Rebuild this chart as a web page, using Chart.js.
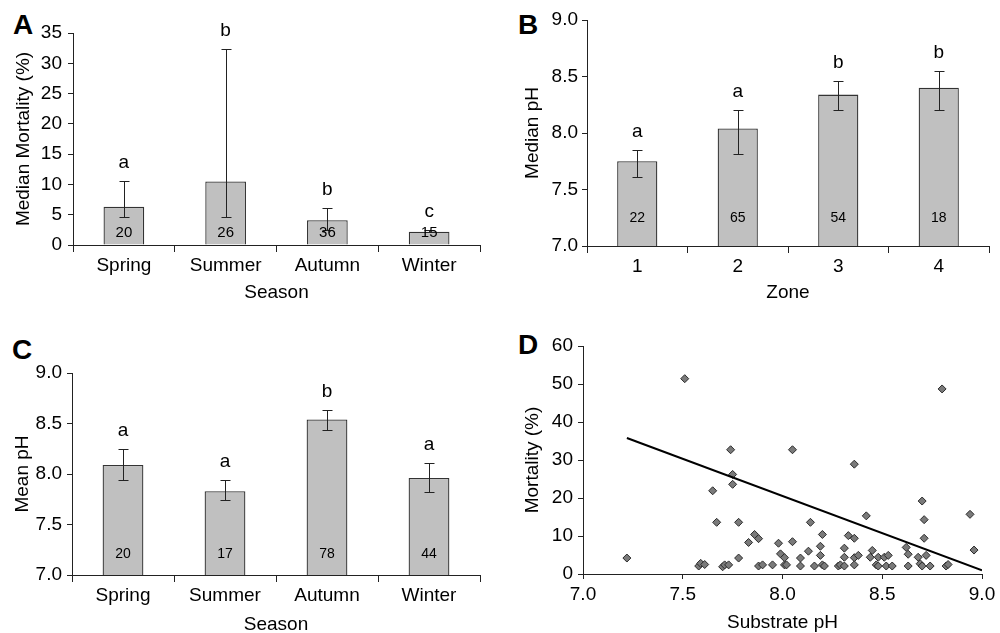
<!DOCTYPE html>
<html>
<head>
<meta charset="utf-8">
<script src="https://cdn.jsdelivr.net/npm/chart.js@4"></script>
<style>
  html, body { margin: 0; padding: 0; background: #fff; overflow: hidden; width: 1000px; height: 633px; }
  body { position: relative; }
  canvas { position: absolute; }
  .tag { position: absolute; font: bold 28px "Liberation Sans", Arial, sans-serif; line-height: 28px; color: #000; }
</style>
</head>
<body>
<div class="tag" style="left:13px;top:11px">A</div>
<div class="tag" style="left:518px;top:11px">B</div>
<div class="tag" style="left:12px;top:336px">C</div>
<div class="tag" style="left:518px;top:331px">D</div>
<canvas id="chart-a" width="500" height="316" style="left:0;top:0;width:500px;height:316px"></canvas>
<canvas id="chart-b" width="500" height="316" style="left:500px;top:0;width:500px;height:316px"></canvas>
<canvas id="chart-c" width="500" height="340" style="left:0;top:316px;width:500px;height:340px"></canvas>
<canvas id="chart-d" width="500" height="340" style="left:500px;top:316px;width:500px;height:340px"></canvas>
<script>
// A: median mortality by season
const seasons = ['Spring', 'Summer', 'Autumn', 'Winter'];
const mortalityMedian = [6.3, 10.5, 4.1, 2.2];
const mortalityHigh = [10.5, 32.4, 6.1, 2.4];
const mortalityLow = [4.6, 4.6, 2.4, 2.1];
const mortalityLetters = ['a', 'b', 'b', 'c'];
const mortalityN = [20, 26, 36, 15];

// B: median pH by zone
const zones = ['1', '2', '3', '4'];
const zonePh = [7.75, 8.04, 8.34, 8.40];
const zonePhHigh = [7.85, 8.20, 8.46, 8.55];
const zonePhLow = [7.61, 7.81, 8.20, 8.20];
const zoneLetters = ['a', 'a', 'b', 'b'];
const zoneN = [22, 65, 54, 18];

// C: mean pH by season
const seasonPh = [8.09, 7.83, 8.54, 7.96];
const seasonPhHigh = [8.25, 7.94, 8.63, 8.11];
const seasonPhLow = [7.94, 7.74, 8.44, 7.82];
const seasonLetters = ['a', 'a', 'b', 'a'];
const seasonN = [20, 17, 78, 44];

// D: mortality vs substrate pH
const substratePh = [7.22, 7.51, 7.58, 7.59, 7.61, 7.65, 7.67, 7.70, 7.71, 7.73, 7.74, 7.75, 7.75,
  7.78, 7.78, 7.83, 7.86, 7.88, 7.88, 7.90, 7.95, 7.98, 7.99, 8.01, 8.01, 8.02, 8.05, 8.05,
  8.09, 8.09, 8.13, 8.14, 8.16, 8.19, 8.19, 8.20, 8.20, 8.21, 8.28, 8.29, 8.31, 8.31, 8.31,
  8.33, 8.36, 8.36, 8.36, 8.36, 8.38, 8.42, 8.44, 8.45, 8.47, 8.48, 8.48, 8.51, 8.52, 8.53,
  8.55, 8.62, 8.63, 8.63, 8.68, 8.69, 8.70, 8.70, 8.71, 8.71, 8.72, 8.74, 8.80, 8.82, 8.83,
  8.94, 8.96];
const mortality = [4.2, 51.4, 2.1, 2.8, 2.5, 21.9, 13.6, 1.9, 2.4, 2.4, 32.7, 26.2, 23.6,
  4.2, 13.6, 8.3, 10.4, 9.3, 2.1, 2.4, 2.4, 8.1, 5.3, 4.3, 2.4, 2.4, 32.7, 8.5,
  4.2, 2.1, 6.0, 13.6, 2.1, 7.3, 4.9, 10.4, 2.4, 2.1, 2.1, 2.4, 6.8, 4.4, 2.1,
  10.1, 9.4, 28.9, 4.3, 2.4, 4.9, 15.3, 4.4, 6.2, 2.4, 4.4, 2.1, 4.4, 2.1, 4.9,
  2.1, 7.0, 5.2, 2.1, 4.4, 2.7, 2.1, 19.2, 14.3, 9.4, 4.9, 2.1, 48.7, 2.1, 2.5,
  15.7, 6.3];
const fitPh = [7.22, 9.0];
const fitMortality = [35.8, 1.0];

const FONT = '"Liberation Sans", Arial, sans-serif';
Chart.defaults.font.family = FONT;
Chart.defaults.font.size = 19;
Chart.defaults.color = '#000';

function annotPlugin(o) {
  return {
    id: 'annot',
    afterDatasetsDraw(chart) {
      const ctx = chart.ctx;
      const y = chart.scales.y;
      const meta = chart.getDatasetMeta(0);
      const base = chart.chartArea.bottom;
      ctx.save();
      ctx.strokeStyle = '#222';
      ctx.lineWidth = 1;
      ctx.fillStyle = '#000';
      ctx.textAlign = 'center';
      meta.data.forEach((bar, i) => {
        const x = Math.round(bar.x) + 0.5;
        const yh = Math.round(y.getPixelForValue(o.high[i])) + 0.5;
        const yl = Math.round(y.getPixelForValue(o.low[i])) + 0.5;
        ctx.beginPath();
        ctx.moveTo(x, yh); ctx.lineTo(x, yl);
        ctx.moveTo(x - 5, yh); ctx.lineTo(x + 5, yh);
        ctx.moveTo(x - 5, yl); ctx.lineTo(x + 5, yl);
        ctx.stroke();
        ctx.font = '19px ' + FONT;
        ctx.textBaseline = 'alphabetic';
        ctx.fillText(o.letters[i], bar.x, yh - 14);
        ctx.font = o.nSize + 'px ' + FONT;
        ctx.textBaseline = 'middle';
        ctx.fillText(String(o.n[i]), bar.x, base - o.nOffset);
      });
      ctx.restore();
    }
  };
}

function barChart(id, o) {
  return new Chart(document.getElementById(id), {
    type: 'bar',
    data: {
      labels: o.labels,
      datasets: [{
        data: o.values,
        backgroundColor: '#c0c0c0',
        borderColor: '#333',
        borderWidth: 1.3,
        categoryPercentage: 1,
        barPercentage: 0.4
      }]
    },
    options: {
      responsive: false,
      animation: false,
      devicePixelRatio: 1,
      layout: { padding: o.pad },
      plugins: { legend: { display: false }, tooltip: { enabled: false } },
      scales: {
        x: {
          grid: { display: true, drawOnChartArea: false, tickLength: 7, color: '#222' },
          border: { color: '#222' },
          ticks: { padding: 2, color: '#000' },
          title: { display: true, text: o.xTitle, color: '#000', padding: { top: 0, bottom: o.xTitlePad } },
          afterFit: s => { s.height = o.xH; }
        },
        y: {
          min: o.min,
          max: o.max,
          grid: { drawOnChartArea: false, tickLength: 5, color: '#222' },
          border: { color: '#222' },
          ticks: { stepSize: o.step, padding: o.yPad, color: '#000', callback: o.fmt },
          title: { display: true, text: o.yTitle, color: '#000', padding: { top: o.yTitlePad, bottom: 0 } },
          afterFit: s => { s.width = o.yW; }
        }
      }
    },
    plugins: [annotPlugin(o)]
  });
}

barChart('chart-a', {
  labels: seasons, values: mortalityMedian, high: mortalityHigh, low: mortalityLow,
  letters: mortalityLetters, n: mortalityN, nOffset: 12, nSize: 15,
  min: 0, max: 35, step: 5, fmt: v => String(v),
  xTitle: 'Season', yTitle: 'Median Mortality (%)',
  pad: { left: 0, right: 20, top: 33, bottom: 0 }, yW: 73, xH: 71, yPad: 6,
  xTitlePad: 12, yTitlePad: 12
});

barChart('chart-b', {
  labels: zones, values: zonePh, high: zonePhHigh, low: zonePhLow,
  letters: zoneLetters, n: zoneN, nOffset: 28, nSize: 14,
  min: 7, max: 9, step: 0.5, fmt: v => v.toFixed(1),
  xTitle: 'Zone', yTitle: 'Median pH',
  pad: { left: 0, right: 11, top: 20, bottom: 0 }, yW: 87, xH: 70, yPad: 4,
  xTitlePad: 12, yTitlePad: 21
});

barChart('chart-c', {
  labels: seasons, values: seasonPh, high: seasonPhHigh, low: seasonPhLow,
  letters: seasonLetters, n: seasonN, nOffset: 21, nSize: 14,
  min: 7, max: 9, step: 0.5, fmt: v => v.toFixed(1),
  xTitle: 'Season', yTitle: 'Mean pH',
  pad: { left: 0, right: 20, top: 57, bottom: 0 }, yW: 72, xH: 81, yPad: 5,
  xTitlePad: 20, yTitlePad: 11
});

new Chart(document.getElementById('chart-d'), {
  type: 'scatter',
  data: {
    datasets: [{
      type: 'line',
      data: fitPh.map((x, i) => ({ x, y: fitMortality[i] })),
      borderColor: '#000',
      borderWidth: 2,
      pointRadius: 0,
      fill: false
    }, {
      data: substratePh.map((x, i) => ({ x, y: mortality[i] })),
      pointStyle: 'rectRot',
      pointRadius: 4,
      backgroundColor: '#7a7a7a',
      borderColor: '#2a2a2a',
      borderWidth: 1
    }]
  },
  options: {
    responsive: false,
    animation: false,
    devicePixelRatio: 1,
    layout: { padding: { left: 0, right: 18, top: 30, bottom: 0 } },
    plugins: { legend: { display: false }, tooltip: { enabled: false } },
    scales: {
      x: {
        type: 'linear', min: 7, max: 9,
        grid: { drawOnChartArea: false, tickLength: 5, color: '#222' },
        border: { color: '#222' },
        ticks: { stepSize: 0.5, padding: 4, color: '#000', callback: v => v.toFixed(1) },
        title: { display: true, text: 'Substrate pH', color: '#000', padding: { top: 0, bottom: 22 } },
        afterFit: s => { s.height = 82; }
      },
      y: {
        min: 0, max: 60,
        grid: { drawOnChartArea: false, tickLength: 5, color: '#222' },
        border: { color: '#222' },
        ticks: { stepSize: 10, padding: 5, color: '#000' },
        title: { display: true, text: 'Mortality (%)', color: '#000', padding: { top: 21, bottom: 0 } },
        afterFit: s => { s.width = 83; }
      }
    }
  }
});
</script>
</body>
</html>
